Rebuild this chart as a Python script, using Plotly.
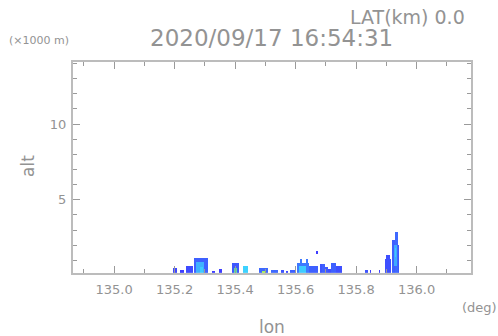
import numpy as np
import plotly.graph_objects as go

# ---- data ----
# echo columns: lon start, lon end (deg), top altitude (km), intensity class
seg_lon0 = [135.1917, 135.2149, 135.2347, 135.2612, 135.3207, 135.3438, 135.3868, 135.4231,
            135.4760, 135.5157, 135.5488, 135.5653, 135.5785, 135.6017, 135.6413, 135.6777,
            135.6843, 135.6942, 135.7041, 135.7140, 135.7306, 135.8264, 135.8430, 135.8727,
            135.8926, 135.8959, 135.9157, 135.9256, 135.9355]
seg_lon1 = [135.2050, 135.2281, 135.2579, 135.3074, 135.3306, 135.3537, 135.4099, 135.4397,
            135.5058, 135.5388, 135.5587, 135.5719, 135.5983, 135.6413, 135.6711, 135.6843,
            135.6942, 135.7041, 135.7140, 135.7306, 135.7504, 135.8364, 135.8463, 135.8760,
            135.9124, 135.9091, 135.9256, 135.9355, 135.9388]
seg_top = [0.50, 0.36, 0.63, 1.16, 0.30, 0.43, 0.83, 0.63,
           0.50, 0.36, 0.36, 0.30, 0.36, 0.83, 0.63, 0.76,
           0.76, 0.56, 0.43, 0.83, 0.63, 0.36, 0.36, 0.36,
           1.09, 1.36, 2.35, 2.88, 2.02]
seg_val = [1.2, 1.0, 1.3, 1.8, 1.0, 1.0, 1.6, 3.9,
           2.0, 2.0, 1.5, 1.2, 1.8, 2.3, 1.8, 1.5,
           1.8, 1.6, 1.4, 1.8, 1.4, 1.5, 1.0, 1.0,
           1.4, 1.4, 1.8, 2.0, 1.6]

# stronger cores inside the columns
core_lon0 = [135.2678, 135.2810, 135.3934, 135.4860, 135.6083, 135.6116, 135.6314, 135.9223, 135.9256]
core_lon1 = [135.2942, 135.2909, 135.4033, 135.4992, 135.6314, 135.6182, 135.6380, 135.9322, 135.9289]
core_bot = [0.17, 0.17, 0.17, 0.17, 0.17, 0.83, 0.83, 0.63, 1.20]
core_top = [0.89, 0.60, 0.50, 0.30, 0.63, 1.09, 1.09, 2.02, 1.80]
core_val = [3.3, 3.8, 4.7, 5.5, 3.8, 2.3, 2.3, 3.2, 3.7]

# isolated echoes aloft
float_lon0 = [135.6645]
float_lon1 = [135.6711]
float_bot = [1.42]
float_top = [1.62]
float_val = [1.0]

x_ticks = [135.0, 135.2, 135.4, 135.6, 135.8, 136.0]
x_tick_text = ["135.0", "135.2", "135.4", "135.6", "135.8", "136.0"]
y_ticks = [5, 10]
y_tick_text = ["5", "10"]

# ---- grid for the heatmap ----
dlon = 1 / 302.5
dalt = 1 / 15.1
lon_c = np.arange(135.17, 135.97, dlon) + dlon / 2
alt_c = np.arange(0.17, 3.1, dalt) + dalt / 2
z = np.full((len(alt_c), len(lon_c)), np.nan)
LON, ALT = np.meshgrid(lon_c, alt_c)
for a, b, t, v in zip(seg_lon0, seg_lon1, seg_top, seg_val):
    m = (LON >= a) & (LON < b) & (ALT <= t)
    z[m] = v
for a, b, lo, t, v in zip(core_lon0, core_lon1, core_bot, core_top, core_val):
    m = (LON >= a) & (LON < b) & (ALT >= lo) & (ALT <= t)
    z[m] = v
for a, b, lo, t, v in zip(float_lon0, float_lon1, float_bot, float_top, float_val):
    m = (LON >= a) & (LON < b) & (ALT >= lo) & (ALT <= t)
    z[m] = v

colorscale = [
    [0.0, "rgb(40,40,235)"],
    [1 / 6, "rgb(62,62,255)"],
    [2 / 6, "rgb(62,105,255)"],
    [3 / 6, "rgb(62,160,255)"],
    [4 / 6, "rgb(62,215,255)"],
    [5 / 6, "rgb(90,235,120)"],
    [1.0, "rgb(240,240,60)"],
]

fig = go.Figure(go.Heatmap(
    x=lon_c, y=alt_c, z=z, zmin=0, zmax=6, colorscale=colorscale,
    showscale=False, zsmooth=False, hoverongaps=False,
))

GRAY = "#939393"
FONT = "DejaVu Sans"
axis_common = dict(
    showline=True, linecolor="#bcbcbc", linewidth=2, mirror="ticks",
    ticks="inside", tickcolor="#9a9a9a", tickwidth=1, ticklen=7,
    showgrid=False, zeroline=False,
    tickfont=dict(family=FONT, size=13, color=GRAY),
)
fig.update_layout(
    width=498, height=336,
    margin=dict(l=73, r=27, t=62, b=63),
    paper_bgcolor="white", plot_bgcolor="white",
    showlegend=False,
    xaxis=dict(range=[134.864, 136.18], tickvals=x_ticks, ticktext=x_tick_text,
               ticklabelstandoff=3,
               minor=dict(dtick=0.1, tick0=135.0, ticks="inside", ticklen=4,
                          tickcolor="#9a9a9a", showgrid=False),
               **axis_common),
    yaxis=dict(range=[0.17, 14.1], tickvals=y_ticks, ticktext=y_tick_text,
               ticklabelstandoff=2,
               minor=dict(dtick=1, tick0=0, ticks="inside", ticklen=4,
                          tickcolor="#9a9a9a", showgrid=False),
               **axis_common),
)

# annotations placed by pixel position (from top-left), converted to paper coords
W, H = 498, 336
L, R, T, B = 73, 27, 62, 63
pw, ph = W - L - R, H - T - B
labels = [
    ("2020/09/17 16:54:31", 271, 38, 23, 0),
    ("LAT(km) 0.0", 407, 17, 19, 0),
    ("(×1000 m)", 39, 41, 11, 0),
    ("(deg)", 479, 307, 13, 0),
    ("lon", 272, 327, 17, 0),
    ("alt", 28, 166, 17, -90),
]
for text, px, py, size, ang in labels:
    fig.add_annotation(text=text, xref="paper", yref="paper",
                       x=(px - L) / pw, y=(H - py - B) / ph,
                       xanchor="center", yanchor="middle", showarrow=False,
                       textangle=ang, font=dict(family=FONT, size=size, color=GRAY))

fig.write_html("out.html", config={"displayModeBar": False})

# remove default page margin so the figure sits at the window origin
with open("out.html", "r", encoding="utf-8") as f:
    html = f.read()
html = html.replace("<body>", '<body style="margin:0;padding:0;overflow:hidden">', 1)
html = html.replace("<head>", "<head><style>html,body{margin:0;padding:0;overflow:hidden}</style>", 1)
with open("out.html", "w", encoding="utf-8") as f:
    f.write(html)
